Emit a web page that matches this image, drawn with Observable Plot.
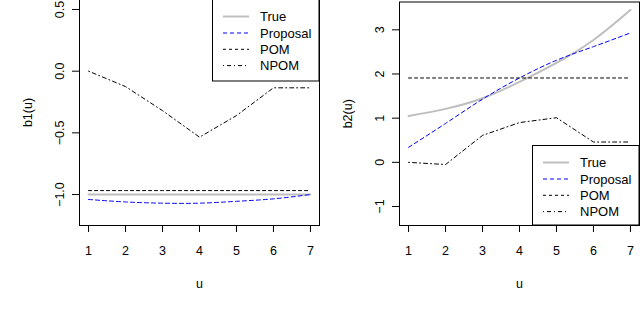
<!DOCTYPE html>
<html>
<head>
<meta charset="utf-8">
<script src="https://cdn.jsdelivr.net/npm/d3@7"></script>
<script src="https://cdn.jsdelivr.net/npm/@observablehq/plot@0.6"></script>
<style>
  html, body { margin: 0; padding: 0; background: #fff; }
  #wrap { position: relative; width: 640px; height: 309px; overflow: hidden; font-family: "Liberation Sans", Arial, sans-serif; }
  .panel { position: absolute; top: 0; }
  .panel svg, .panel svg text { font-size: 12.5px !important; font-family: "Liberation Sans", Arial, sans-serif !important; }
  .legend { position: absolute; }
  .legend text { font-size: 13px; font-family: "Liberation Sans", Arial, sans-serif; }
</style>
</head>
<body>
<div id="wrap"></div>
<script>
// ---- data ----
const u = [1, 2, 3, 4, 5, 6, 7];
const seriesNames = ["True", "Proposal", "POM", "NPOM"];

const b1True     = [-1, -1, -1, -1, -1, -1, -1];
const b1Proposal = [-1.04, -1.06, -1.07, -1.07, -1.055, -1.035, -1.0];
const b1POM      = [-0.968, -0.968, -0.968, -0.968, -0.968, -0.968, -0.968];
const b1NPOM     = [0, -0.125, -0.32, -0.535, -0.36, -0.135, -0.135];

const b2True     = [1.05, 1.21, 1.45, 1.82, 2.25, 2.77, 3.45];
const b2Proposal = [0.34, 0.88, 1.43, 1.91, 2.31, 2.62, 2.93];
const b2POM      = [1.91, 1.91, 1.91, 1.91, 1.91, 1.91, 1.91];
const b2NPOM     = [0, -0.05, 0.61, 0.9, 1.01, 0.46, 0.46];

const b1Ticks = [-1.0, -0.5, 0.0, 0.5];
const b2Ticks = [-1, 0, 1, 2, 3];

// ---- styles ----
const styles = {
  True:     {stroke: "#bebebe", width: 2, dash: null, curve: "natural"},
  Proposal: {stroke: "#0000ff", width: 1, dash: "4 3", curve: "natural"},
  POM:      {stroke: "#000000", width: 1, dash: "3 3", curve: "linear"},
  NPOM:     {stroke: "#000000", width: 1, dash: "1 3 4 3", curve: "linear"}
};

const FS = 12.5;
const fmtMinus = s => s.replace("-", "\u2212");

function panel({values, ticks, tickFmt, domain, ylabel, height, marginTop}) {
  const marks = [];
  seriesNames.forEach((name, i) => {
    const st = styles[name];
    const data = u.map((x, j) => ({u: x, v: values[i][j]}));
    marks.push(Plot.line(data, {
      x: "u", y: "v", stroke: st.stroke, strokeWidth: st.width,
      strokeDasharray: st.dash, curve: st.curve
    }));
  });
  marks.push(Plot.frame({stroke: "#000"}));
  marks.push(Plot.axisX({ticks: u, tickSize: 7, tickPadding: 13.5, label: null, fontSize: FS, tickFormat: d => String(d)}));
  marks.push(Plot.axisY({ticks: ticks, tickSize: 7, tickFormat: () => "", label: null}));
  marks.push(Plot.text(ticks, {
    y: d => d, text: d => fmtMinus(tickFmt(d)), frameAnchor: "left", fontSize: FS,
    rotate: -90, dx: -16, textAnchor: "middle", lineAnchor: "bottom"
  }));
  marks.push(Plot.text([ylabel], {
    text: d => d, frameAnchor: "left", rotate: -90, dx: -48, fontSize: FS,
    textAnchor: "middle", lineAnchor: "bottom"
  }));
  marks.push(Plot.text(["u"], {
    text: d => d, frameAnchor: "bottom", dy: 58, lineAnchor: "middle", fontSize: FS
  }));
  return Plot.plot({
    width: 320, height: height,
    marginLeft: 79, marginRight: 1, marginTop: marginTop, marginBottom: 84,
    x: {domain: [0.755, 7.245]},
    y: {domain: domain},
    style: {fontSize: FS + "px", fontFamily: "Liberation Sans, Arial, sans-serif", color: "#000", background: "#fff"},
    marks
  });
}

function legend(left, top, w, h) {
  const svg = d3.create("svg").attr("width", w + 1).attr("height", h + 1)
    .attr("class", "legend")
    .style("left", left + "px").style("top", top + "px");
  svg.append("rect").attr("x", 0.5).attr("y", 0.5).attr("width", w - 0.5).attr("height", h - 0.5)
    .attr("fill", "#fff").attr("stroke", "#000");
  const rows = [17.5, 34, 50.3, 66.6];
  seriesNames.forEach((name, i) => {
    const st = styles[name];
    svg.append("line").attr("x1", 11).attr("x2", 37).attr("y1", rows[i]).attr("y2", rows[i])
      .attr("stroke", st.stroke).attr("stroke-width", st.width)
      .attr("stroke-dasharray", st.dash);
    svg.append("text").attr("x", 48).attr("y", rows[i]).attr("dy", "0.35em")
      .text(name);
  });
  return svg.node();
}

const wrap = document.getElementById("wrap");

const p1 = panel({
  values: [b1True, b1Proposal, b1POM, b1NPOM],
  ticks: b1Ticks, tickFmt: d3.format(".1f"),
  domain: [-1.251, 0.581], ylabel: "b1(u)", height: 312, marginTop: 2
});
const d1 = document.createElement("div");
d1.className = "panel"; d1.style.left = "0px"; d1.style.top = "-3px";
d1.appendChild(p1);
wrap.appendChild(d1);

const p2 = panel({
  values: [b2True, b2Proposal, b2POM, b2NPOM],
  ticks: b2Ticks, tickFmt: d3.format("d"),
  domain: [-1.43, 3.63], ylabel: "b2(u)", height: 309, marginTop: 1.5
});
const d2 = document.createElement("div");
d2.className = "panel"; d2.style.left = "320px"; d2.style.top = "0px";
d2.appendChild(p2);
wrap.appendChild(d2);

wrap.appendChild(legend(212, -1, 107, 82));
wrap.appendChild(legend(532, 145, 107, 80));
</script>
</body>
</html>
